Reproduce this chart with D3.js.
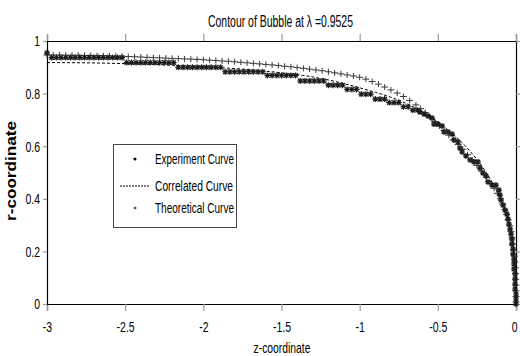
<!DOCTYPE html>
<html><head><meta charset="utf-8">
<script src="https://cdn.jsdelivr.net/npm/d3@7"></script>
<style>
html,body{margin:0;padding:0;background:#fff;}
text{font-family:"Liberation Sans","Arial",sans-serif;fill:#000;}
</style></head>
<body>
<svg id="chart" width="520" height="356"></svg>
<script>
const titleText = "Contour of Bubble at λ =0.9525";
const xLabel = "z-coordinate";
const yLabel = "r-coordinate";
const xTickValues = [-3, -2.5, -2, -1.5, -1, -0.5, 0];
const xTickLabels = ["-3", "-2.5", "-2", "-1.5", "-1", "-0.5", "0"];
const yTickValues = [0, 0.2, 0.4, 0.6, 0.8, 1];
const yTickLabels = ["0", "0.2", "0.4", "0.6", "0.8", "1"];
const legendLabels = ["Experiment Curve", "Correlated Curve", "Theoretical Curve"];

const experiment = [
[-3.00,.955],[-2.97,.937],[-2.94,.937],[-2.91,.937],[-2.88,.937],[-2.85,.937],[-2.82,.937],[-2.79,.937],[-2.76,.937],[-2.73,.937],[-2.70,.937],[-2.67,.937],[-2.64,.937],[-2.61,.937],[-2.58,.937],[-2.55,.937],[-2.52,.937],
[-2.49,.918],[-2.46,.918],[-2.43,.918],[-2.40,.918],[-2.37,.918],[-2.34,.918],[-2.31,.918],[-2.28,.918],[-2.25,.918],[-2.22,.918],[-2.19,.918],
[-2.16,.900],[-2.13,.900],[-2.10,.900],[-2.07,.900],[-2.04,.900],[-2.01,.900],[-1.98,.900],[-1.95,.900],[-1.92,.900],[-1.89,.900],
[-1.86,.883],[-1.83,.883],[-1.80,.883],[-1.77,.883],[-1.74,.883],[-1.71,.883],[-1.68,.883],[-1.65,.883],[-1.62,.883],
[-1.59,.869],[-1.56,.869],[-1.53,.869],[-1.50,.869],[-1.47,.869],[-1.44,.869],[-1.41,.869],
[-1.38,.848],[-1.35,.848],[-1.32,.848],[-1.29,.848],[-1.26,.848],[-1.23,.848],
[-1.20,.832],[-1.17,.832],[-1.14,.832],[-1.11,.832],
[-1.08,.816],[-1.05,.816],[-1.02,.816],
[-0.99,.798],[-0.96,.798],[-0.93,.798],
[-0.90,.779],[-0.87,.779],[-0.84,.779],
[-0.81,.766],[-0.78,.766],[-0.75,.766],
[-0.72,.750],[-0.69,.750],
[-0.66,.737],[-0.63,.737],
[-0.614,.730],[-0.588,.722],[-0.563,.715],[-0.537,.707],[-0.525,.684],[-0.499,.684],[-0.473,.677],[-0.461,.654],[-0.435,.654],[-0.409,.646],
[-0.397,.624],[-0.371,.616],[-0.358,.593],[-0.345,.578],[-0.320,.563],[-0.294,.548],[-0.269,.540],[-0.243,.540],[-0.230,.517],[-0.211,.498],
[-0.192,.487],[-0.179,.464],[-0.153,.452],[-0.128,.452],[-0.109,.433],[-0.102,.414],[-0.096,.395],[-0.083,.376],[-0.070,.357],[-0.058,.342],
[-0.051,.323],[-0.045,.304],[-0.038,.285],[-0.032,.266],[-0.026,.247],[-0.026,.228],[-0.019,.209],[-0.019,.190],[-0.013,.171],[-0.013,.152],
[-0.013,.133],[-0.006,.114],[-0.006,.095],[-0.006,.076],[-0.006,.057],[0,.038],[0,.019],[0,0]
];

const theoretical = [
[-3.00,.947],[-2.96,.947],[-2.92,.947],[-2.88,.946],[-2.84,.946],[-2.80,.946],[-2.76,.945],[-2.72,.945],[-2.68,.944],[-2.64,.944],
[-2.60,.943],[-2.56,.942],[-2.52,.942],[-2.48,.941],[-2.44,.940],[-2.40,.939],[-2.36,.938],[-2.32,.937],[-2.28,.936],[-2.24,.935],
[-2.20,.934],[-2.16,.933],[-2.12,.932],[-2.08,.931],[-2.04,.930],[-2.00,.929],[-1.96,.927],[-1.92,.926],[-1.88,.924],[-1.84,.923],
[-1.80,.921],[-1.76,.919],[-1.72,.917],[-1.68,.915],[-1.64,.913],[-1.60,.911],[-1.56,.909],[-1.52,.907],[-1.48,.904],[-1.44,.902],
[-1.40,.899],[-1.36,.896],[-1.32,.893],[-1.28,.890],[-1.24,.887],[-1.20,.883],[-1.16,.879],[-1.12,.875],[-1.08,.871],[-1.04,.867],
[-1.00,.862],[-0.96,.855],[-0.92,.846],[-0.88,.836],[-0.84,.825],[-0.80,.814],[-0.76,.802],[-0.72,.789],[-0.68,.774],[-0.64,.757],
[-0.61,.743],[-0.58,.728],[-0.55,.711],[-0.52,.694],[-0.49,.677],[-0.46,.660],[-0.43,.642],[-0.40,.624],[-0.37,.606],[-0.34,.588],
[-0.31,.568],[-0.28,.548],[-0.25,.527],[-0.22,.505],[-0.19,.482],[-0.16,.458],[-0.14,.440],[-0.12,.421],[-0.10,.400],[-0.085,.380],
[-0.07,.358],[-0.06,.340],[-0.05,.320],[-0.04,.297],[-0.032,.275],[-0.025,.252],[-0.019,.228],[-0.014,.205],[-0.010,.182],[-0.007,.160],
[-0.005,.138],[-0.003,.116],[-0.002,.094],[-0.001,.072],[-0.0005,.050],[0,.028],[0,.008]
];

const correlated = [
[-3,.918],[-2.75,.917],[-2.5,.914],[-2.25,.909],[-2,.902],[-1.75,.893],[-1.5,.879],[-1.35,.868],[-1.2,.852],[-1.1,.838],
[-1.0,.822],[-0.9,.805],[-0.8,.786],[-0.7,.762],[-0.6,.731],[-0.5,.692],[-0.4,.644],[-0.3,.585],[-0.2,.508],[-0.15,.46],
[-0.1,.40],[-0.07,.355],[-0.05,.315],[-0.03,.265],[-0.02,.23],[-0.01,.175],[-0.005,.13],[-0.002,.08],[0,0]
];

const svg = d3.select("#chart");
const x = d3.scaleLinear().domain([-3, 0]).range([47, 516]);
const y = d3.scaleLinear().domain([0, 1]).range([304, 41]);

const plusPath = "M-3.5,0H3.5M0,-3V3";
const starPath = "M-3,0H3M0,-3V3M-2.2,-2.2L2.2,2.2M-2.2,2.2L2.2,-2.2";

// condense text horizontally (narrow face look)
function condense(sel, f) {
  sel.each(function () {
    const w = this.getComputedTextLength();
    d3.select(this).attr("textLength", (w * f).toFixed(1)).attr("lengthAdjust", "spacingAndGlyphs");
  });
}

// axes
const gx = svg.append("g").attr("transform", "translate(0,304)")
  .call(d3.axisBottom(x).tickValues(xTickValues).tickSize(7).tickPadding(10)
    .tickFormat((d, i) => xTickLabels[i]));
const gxt = svg.append("g").attr("transform", "translate(0,41)")
  .call(d3.axisTop(x).tickValues(xTickValues).tickSize(7).tickFormat(""));
const gy = svg.append("g").attr("transform", "translate(47,0)")
  .call(d3.axisLeft(y).tickValues(yTickValues).tickSize(4).tickPadding(3)
    .tickFormat((d, i) => yTickLabels[i]));
const gyr = svg.append("g").attr("transform", "translate(516,0)")
  .call(d3.axisRight(y).tickValues(yTickValues).tickSize(4).tickFormat(""));

[gx, gxt, gy, gyr].forEach(g => {
  g.select(".domain").attr("stroke", "#000").attr("stroke-width", 1.2);
  g.selectAll(".tick line").attr("stroke", "#9a9a9a").attr("stroke-width", 1.2);
  g.selectAll(".tick text").attr("font-size", 15).attr("fill", "#000")
    .attr("font-family", "'Liberation Sans',Arial,sans-serif");
});
condense(gx.selectAll(".tick text"), 0.7);
condense(gy.selectAll(".tick text"), 0.7);
// keep the last x label inside the picture edge
gx.selectAll(".tick text").filter(d => d === 0).attr("text-anchor", "end").attr("x", 1);

// theoretical markers
svg.append("g").selectAll("path").data(theoretical).join("path")
  .attr("transform", d => `translate(${x(d[0])},${y(d[1])})`)
  .attr("d", plusPath).attr("stroke", "#3a3a3a").attr("stroke-width", 1).attr("fill", "none");

// correlated dashed line
svg.append("path").datum(correlated)
  .attr("d", d3.line().x(d => x(d[0])).y(d => y(d[1])).curve(d3.curveMonotoneX))
  .attr("fill", "none").attr("stroke", "#000").attr("stroke-width", 1)
  .attr("stroke-dasharray", "3,2");

// experiment markers
svg.append("g").selectAll("path").data(experiment).join("path")
  .attr("transform", d => `translate(${x(d[0])},${y(d[1])})`)
  .attr("d", starPath).attr("stroke", "#1c1c1c").attr("stroke-width", 1.2).attr("fill", "none");

// title and labels
svg.append("text").attr("x", 280.5).attr("y", 27).attr("text-anchor", "middle")
  .attr("font-size", 16).attr("textLength", 145).attr("lengthAdjust", "spacingAndGlyphs").text(titleText);
svg.append("text").attr("x", 282).attr("y", 353).attr("text-anchor", "middle")
  .attr("font-size", 15).attr("textLength", 57).attr("lengthAdjust", "spacingAndGlyphs").text(xLabel);
svg.append("text").attr("transform", "translate(16,171) rotate(-90)").attr("text-anchor", "middle")
  .attr("font-size", 14).attr("font-weight", "bold").attr("textLength", 100).attr("lengthAdjust", "spacingAndGlyphs").text(yLabel);

// legend
const lg = svg.append("g");
lg.append("rect").attr("x", 113.5).attr("y", 144.5).attr("width", 123).attr("height", 83)
  .attr("fill", "#fff").attr("stroke", "#444").attr("stroke-width", 1);
const ly = [164, 191, 213];
const legendWidths = [79, 78, 79];
lg.append("path").attr("transform", `translate(135,${ly[0] - 5})`).attr("d", "M-1.5,0H1.5M0,-1.5V1.5M-1,-1L1,1M-1,1L1,-1")
  .attr("stroke", "#000").attr("stroke-width", 1.2).attr("fill", "none");
lg.append("line").attr("x1", 120).attr("x2", 150).attr("y1", ly[1] - 5).attr("y2", ly[1] - 5)
  .attr("stroke", "#000").attr("stroke-width", 1).attr("stroke-dasharray", "2,1");
lg.append("path").attr("transform", `translate(135,${ly[2] - 5})`).attr("d", "M-1.5,0H1.5M0,-1.5V1.5")
  .attr("stroke", "#333").attr("stroke-width", 1).attr("fill", "none");
legendLabels.forEach((t, i) => {
  lg.append("text").attr("x", 155).attr("y", ly[i]).attr("font-size", 14)
    .attr("textLength", legendWidths[i]).attr("lengthAdjust", "spacingAndGlyphs").text(t);
});
</script>
</body></html>
